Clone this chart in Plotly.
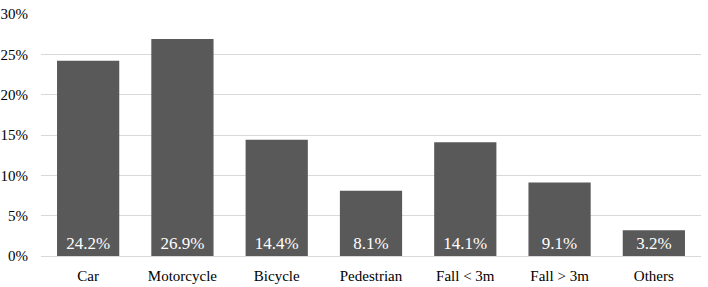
import plotly.graph_objects as go

categories = ["Car", "Motorcycle", "Bicycle", "Pedestrian", "Fall < 3m", "Fall > 3m", "Others"]
values = [24.2, 26.9, 14.4, 8.1, 14.1, 9.1, 3.2]
y_ticks = [0, 5, 10, 15, 20, 25, 30]
y_tick_labels = [f"{v}%" for v in y_ticks]

SERIF = "Liberation Serif"

fig = go.Figure(go.Bar(
    x=categories,
    y=values,
    marker=dict(color="#595959", line=dict(width=0)),
    text=[f"{v:.1f}%" for v in values],
    textposition="inside",
    insidetextanchor="start",
    textangle=0,
    textfont=dict(color="white", size=17, family=SERIF),
    cliponaxis=False,
))

fig.update_layout(
    width=708, height=287,
    margin=dict(l=41, r=7, t=14, b=31, autoexpand=False),
    paper_bgcolor="white", plot_bgcolor="white",
    bargap=0.34,
    showlegend=False,
    font=dict(family=SERIF, size=15, color="black"),
)
fig.update_xaxes(showgrid=False, showline=False, ticks="",
                 tickfont=dict(family=SERIF, size=15, color="black"),
                 ticklabelstandoff=9, automargin=False)
fig.update_yaxes(
    range=[0, 30], tickvals=y_ticks, ticktext=y_tick_labels,
    showgrid=True, gridcolor="#d9d9d9", gridwidth=1,
    zeroline=True, zerolinecolor="#d9d9d9", zerolinewidth=1,
    showline=False, ticks="", ticklabelstandoff=12,
    tickfont=dict(family=SERIF, size=15, color="black"),
    automargin=False,
)

fig.write_html("out.html", config={"displayModeBar": False},
               post_script="document.body.style.margin='0';")
